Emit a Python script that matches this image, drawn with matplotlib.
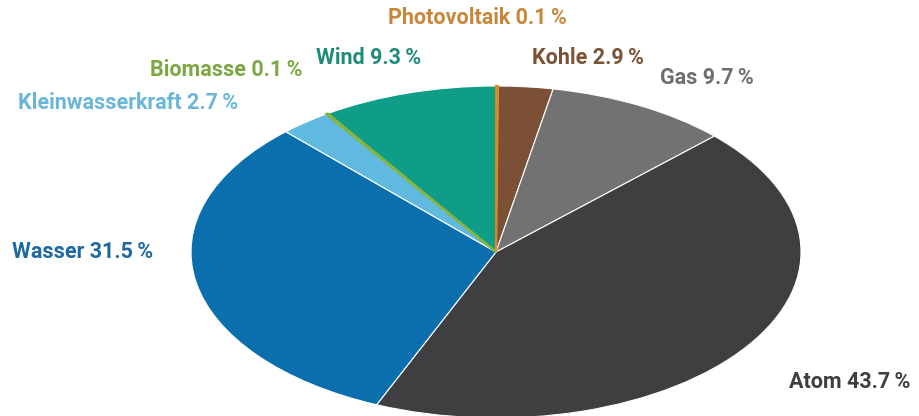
import matplotlib
matplotlib.use("Agg")
import matplotlib.pyplot as plt

# Strommix (Anteile in %), im Uhrzeigersinn ab 12 Uhr
sources = ["Photovoltaik", "Kohle", "Gas", "Atom", "Wasser",
           "Kleinwasserkraft", "Biomasse", "Wind"]
shares = [0.1, 2.9, 9.7, 43.7, 31.5, 2.7, 0.1, 9.3]
colors = ["#DA8A2E", "#7B5034", "#727272", "#3F3E41", "#0B6FAD",
          "#60BAE0", "#86B43E", "#0E9D86"]
label_colors = ["#C8873A", "#7A5236", "#6E6E6E", "#3F3F42", "#1D6AA3",
                "#6AB6D9", "#7BA843", "#1F8C7A"]

# label anchors in pixel coords (left x, centre y from top)
label_pos = [(388, 18), (532, 58), (660, 78), (789, 382), (12, 252),
             (18, 103), (150, 70), (316, 58)]

W, H = 920, 416
cx, cy = 496, 252   # pie centre (px, from top)
rx, ry = 305, 166   # ellipse radii (px)

fig = plt.figure(figsize=(W / 100, H / 100), dpi=100)
ax = fig.add_axes([0, 0, 1, 1])

wedges, _ = ax.pie(shares, colors=colors, startangle=90, counterclock=False,
                   radius=1, center=(0, 0),
                   wedgeprops=dict(edgecolor="white", linewidth=0.8))
# keep the tiny slices visible
for w, v, c in zip(wedges, shares, colors):
    if v < 1:
        w.set_edgecolor(c)
        w.set_linewidth(1.6)
        w.set_zorder(3)

ax.set_aspect("auto")
ax.set_xlim(-cx / rx, (W - cx) / rx)
ax.set_ylim(-(H - cy) / ry, cy / ry)
ax.axis("off")

for name, val, col, (px, py) in zip(sources, shares, label_colors, label_pos):
    ax.text((px - cx) / rx, (cy - py) / ry, f"{name} {val:.1f}\u2009%",
            color=col, fontsize=15.5, fontweight="bold",
            family=["Roboto", "DejaVu Sans"], ha="left", va="center")

fig.savefig("out.png", dpi=100)
